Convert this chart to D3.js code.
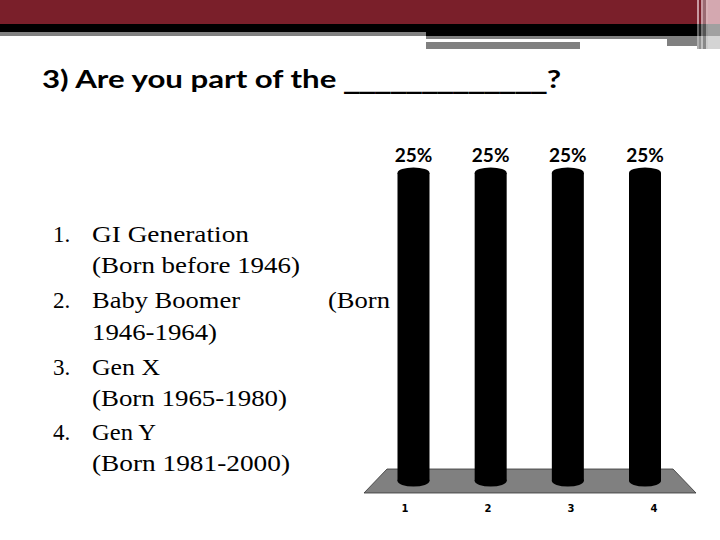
<!DOCTYPE html>
<html><head><meta charset="utf-8">
<script src="https://cdn.jsdelivr.net/npm/d3@7"></script>
<style>html,body{margin:0;padding:0;background:#fff;}svg{display:block;}</style>
</head><body>
<script>
// ---- data ----
const categories = ["1", "2", "3", "4"];
const values = [25, 25, 25, 25];
const valueLabels = ["25%", "25%", "25%", "25%"];
const titleParts = ["3) Are you part of the ", "_____________", "?"];
const listNumbers = ["1.", "2.", "3.", "4."];
const listLines = [
  ["GI Generation", "(Born before 1946)"],
  ["Baby Boomer", "1946-1964)"],
  ["Gen X", "(Born 1965-1980)"],
  ["Gen Y", "(Born 1981-2000)"]
];
const wrappedExtra = "(Born"; // trailing word on item 2's first line

const W = 720, H = 540;
const svg = d3.select("body").append("svg").attr("width", W).attr("height", H);

// ---- decorative banner ----
const banner = svg.append("g");
banner.append("rect").attr("x",0).attr("y",0).attr("width",700).attr("height",24).attr("fill","#7a1f2a");
banner.append("rect").attr("x",0).attr("y",24).attr("width",700).attr("height",12).attr("fill","#000");
banner.append("rect").attr("x",0).attr("y",32).attr("width",426).attr("height",4).attr("fill","#808080");
banner.append("rect").attr("x",426).attr("y",36).attr("width",241).attr("height",3).attr("fill","#808080");
banner.append("rect").attr("x",667).attr("y",36).attr("width",31).attr("height",10).attr("fill","#808080");
banner.append("rect").attr("x",426).attr("y",42).attr("width",154).attr("height",7).attr("fill","#808080");
const stripes = [[697,2,"#c89aa2","#666","#b0b0b0"],[699,2,"#7a1f2a","#222","#909090"],[701,2,"#c89aa2","#777","#c0c0c0"],[703,3,"#9a6a72","#555","#888"],[706,2,"#d8b0b6","#999","#ccc"],[708,12,"#d4a8b0","#a0a0a0","#d4d4d4"]];
stripes.forEach(s => {
  banner.append("rect").attr("x",s[0]).attr("y",0).attr("width",s[1]).attr("height",24).attr("fill",s[2]);
  banner.append("rect").attr("x",s[0]).attr("y",24).attr("width",s[1]).attr("height",12).attr("fill",s[3]);
  banner.append("rect").attr("x",s[0]).attr("y",36).attr("width",s[1]).attr("height",13).attr("fill",s[4]);
});

// ---- title ----
const title = svg.append("text").attr("x",42).attr("y",88)
  .attr("font-family","Lato, 'Open Sans', sans-serif").attr("font-weight","bold")
  .attr("font-size",24).attr("fill","#000")
  .attr("textLength",519).attr("lengthAdjust","spacingAndGlyphs");
title.append("tspan").text(titleParts[0]);
title.append("tspan").attr("font-family","'DejaVu Sans', sans-serif").text(titleParts[1]);
title.append("tspan").text(titleParts[2]);

// ---- list (legend) ----
const listG = svg.append("g").attr("font-family","'Liberation Serif', 'DejaVu Serif', serif").attr("font-size",23).attr("fill","#000");
const baselines = [[242,273],[308,340],[375,406],[440,471]];
const widths = [[157,208],[148,125],[68,195],[64,198]];
listNumbers.forEach((n,i) => {
  listG.append("text").attr("x",53).attr("y",baselines[i][0]).text(n);
  listLines[i].forEach((line,j) => {
    listG.append("text").attr("x",92).attr("y",baselines[i][j])
      .attr("textLength",widths[i][j]).attr("lengthAdjust","spacingAndGlyphs").text(line);
  });
});
listG.append("text").attr("x",328).attr("y",308).attr("textLength",62).attr("lengthAdjust","spacingAndGlyphs").text(wrappedExtra);

// ---- chart ----
const x = d3.scalePoint().domain(categories).range([413.5, 645]);
const xFront = d3.scalePoint().domain(categories).range([405, 654]);
const y = d3.scaleLinear().domain([0, 25]).range([481, 173]);
const barW = 32, capR = 5.5;

// floor
const floorTop = 469, floorBot = 493;
svg.append("path")
  .attr("d", `M387,${floorTop} L673,${floorTop} L696,${floorBot} L364,${floorBot} Z`)
  .attr("fill","#808080").attr("stroke","#333").attr("stroke-width",0.8);

// cylinders
const bars = svg.append("g").selectAll("g").data(values).join("g");
bars.append("rect")
  .attr("x",(d,i)=>x(categories[i]) - barW/2)
  .attr("y",d=>y(d))
  .attr("width",barW)
  .attr("height",d=>y(0)-y(d))
  .attr("fill","#000");
bars.append("ellipse")
  .attr("cx",(d,i)=>x(categories[i])).attr("cy",d=>y(d))
  .attr("rx",barW/2).attr("ry",capR).attr("fill","#000");
bars.append("ellipse")
  .attr("cx",(d,i)=>x(categories[i])).attr("cy",y(0))
  .attr("rx",barW/2).attr("ry",capR).attr("fill","#000");

// value labels
svg.append("g").selectAll("text").data(values).join("text")
  .attr("x",(d,i)=>x(categories[i])).attr("y",d=>y(d)-11)
  .attr("text-anchor","middle")
  .attr("font-family","Lato, 'Open Sans', sans-serif").attr("font-weight","bold")
  .attr("font-size",19).attr("fill","#000")
  .text((d,i)=>valueLabels[i]);

// category labels
svg.append("g").selectAll("text").data(categories).join("text")
  .attr("x",d=>xFront(d)).attr("y",512)
  .attr("text-anchor","middle")
  .attr("font-family","'DejaVu Sans', sans-serif").attr("font-weight","bold")
  .attr("font-size",10).attr("fill","#000")
  .text(d=>d);
</script>
</body></html>
